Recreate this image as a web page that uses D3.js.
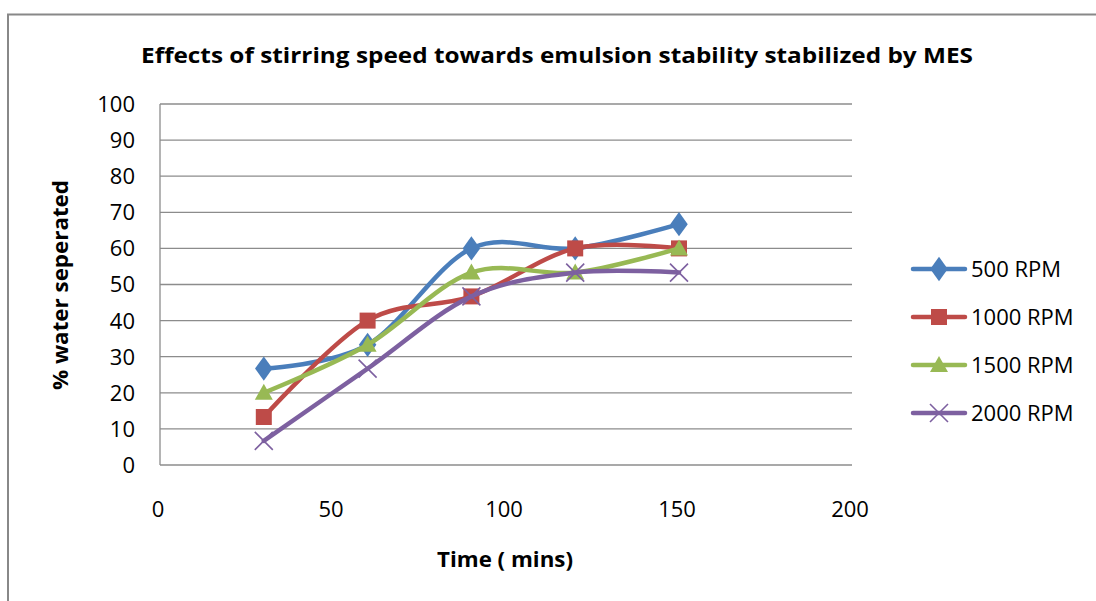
<!DOCTYPE html>
<html>
<head>
<meta charset="utf-8">
<script src="https://cdn.jsdelivr.net/npm/d3@7"></script>
<style>
  body { margin: 0; background: #fff; }
  text { font-family: "Open Sans", "Noto Sans", sans-serif; fill: #000; }
</style>
</head>
<body>
<svg id="chart" width="1096" height="601"></svg>
<script>
// data
var times = [30, 60, 90, 120, 150];
var seriesNames = ["500 RPM", "1000 RPM", "1500 RPM", "2000 RPM"];
var rpm500 = [26.7, 33.3, 60, 60, 66.7];
var rpm1000 = [13.3, 40, 46.7, 60, 60];
var rpm1500 = [20, 33.3, 53.3, 53.3, 60];
var rpm2000 = [6.7, 26.7, 46.7, 53.3, 53.3];
var yTicks = [0, 10, 20, 30, 40, 50, 60, 70, 80, 90, 100];
var xTicks = [0, 50, 100, 150, 200];
var colors = ["#4A7EBB", "#BE4B48", "#98B954", "#7D60A0"];
var markers = ["diamond", "square", "triangle", "cross"];

var svg = d3.select("#chart");
var allValues = [rpm500, rpm1000, rpm1500, rpm2000];

// outer frame (runs off right/bottom like the screenshot)
svg.append("rect")
    .attr("x", 8).attr("y", 14.5)
    .attr("width", 1200).attr("height", 700)
    .attr("fill", "none").attr("stroke", "#888").attr("stroke-width", 2);

var x = d3.scaleLinear().domain([0, 200]).range([160, 852]);
var y = d3.scaleLinear().domain([0, 100]).range([465, 104]);

// gridlines
svg.append("g").selectAll("line")
    .data(yTicks)
    .enter().append("line")
        .attr("x1", x(0)).attr("x2", x(200))
        .attr("y1", d => y(d)).attr("y2", d => y(d))
        .attr("stroke", "#8c8c8c").attr("stroke-width", 1.3);

// y axis line
svg.append("line")
    .attr("x1", x(0)).attr("x2", x(0))
    .attr("y1", y(0)).attr("y2", y(100))
    .attr("stroke", "#8c8c8c").attr("stroke-width", 1.3);

// y tick labels
svg.append("g").selectAll("text")
    .data(yTicks)
    .enter().append("text")
        .attr("x", 135)
        .attr("y", d => y(d))
        .attr("dy", "0.36em")
        .attr("text-anchor", "end")
        .style("font-size", "22px")
        .text(d => d);

// x tick labels
svg.append("g").selectAll("text")
    .data(xTicks)
    .enter().append("text")
        .attr("x", d => x(d) - 2)
        .attr("y", 517)
        .attr("text-anchor", "middle")
        .style("font-size", "22px")
        .text(d => d);

// title + axis titles
svg.append("text")
    .attr("x", 557).attr("y", 63)
    .attr("text-anchor", "middle")
    .attr("textLength", 832).attr("lengthAdjust", "spacingAndGlyphs")
    .style("font-size", "21px").style("font-weight", "bold")
    .text("Effects of stirring speed towards emulsion stability stabilized by MES");

svg.append("text")
    .attr("x", 505).attr("y", 567)
    .attr("text-anchor", "middle")
    .attr("textLength", 136).attr("lengthAdjust", "spacingAndGlyphs")
    .style("font-size", "21px").style("font-weight", "bold")
    .text("Time ( mins)");

svg.append("text")
    .attr("transform", "translate(68,285) rotate(-90)")
    .attr("text-anchor", "middle")
    .attr("textLength", 210).attr("lengthAdjust", "spacingAndGlyphs")
    .style("font-size", "21px").style("font-weight", "bold")
    .text("% water seperated");

// lines (Excel style smoothing)
var line = d3.line()
    .x((d, i) => x(times[i]))
    .y(d => y(d))
    .curve(d3.curveCardinal.tension(0));

function drawMarker(g, type, color, cx, cy) {
    if (type === "diamond") {
        g.append("path").attr("d", d3.symbol().type(d3.symbolDiamond).size(170)())
            .attr("transform", "translate(" + cx + "," + cy + ") scale(1.25,1)")
            .attr("fill", color);
    } else if (type === "square") {
        g.append("rect").attr("x", cx - 8).attr("y", cy - 8)
            .attr("width", 16).attr("height", 16).attr("fill", color);
    } else if (type === "triangle") {
        g.append("path").attr("d", "M" + cx + "," + (cy - 9) + "L" + (cx + 9) + "," + (cy + 7) + "L" + (cx - 9) + "," + (cy + 7) + "Z")
            .attr("fill", color);
    } else {
        g.append("path").attr("d", "M" + (cx - 9) + "," + (cy - 9) + "L" + (cx + 9) + "," + (cy + 9) + "M" + (cx - 9) + "," + (cy + 9) + "L" + (cx + 9) + "," + (cy - 9))
            .attr("stroke", color).attr("stroke-width", 1.6).attr("fill", "none");
    }
}

allValues.forEach(function (vals, s) {
    var g = svg.append("g");
    g.append("path")
        .datum(vals)
        .attr("d", line)
        .attr("fill", "none")
        .attr("stroke", colors[s])
        .attr("stroke-width", 4.5)
        .attr("stroke-linecap", "round");
    vals.forEach(function (v, i) {
        drawMarker(g, markers[s], colors[s], x(times[i]), y(v));
    });
});

// legend
var legend = svg.append("g");
seriesNames.forEach(function (name, s) {
    var ly = 269 + s * 48;
    legend.append("line")
        .attr("x1", 913).attr("x2", 965)
        .attr("y1", ly).attr("y2", ly)
        .attr("stroke", colors[s]).attr("stroke-width", 4.5)
        .attr("stroke-linecap", "round");
    drawMarker(legend, markers[s], colors[s], 939, ly);
    legend.append("text")
        .attr("x", 971).attr("y", ly)
        .attr("dy", "0.36em")
        .style("font-size", "22px")
        .text(name);
});
</script>
</body>
</html>
